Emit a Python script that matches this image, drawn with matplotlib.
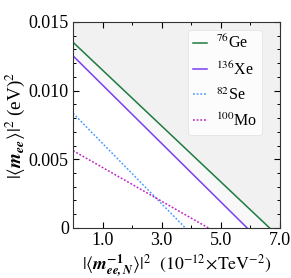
import matplotlib

matplotlib.use("Agg")
import matplotlib.pyplot as plt
import numpy as np
from matplotlib.ticker import MultipleLocator

plt.rcParams["font.family"] = ["Liberation Serif", "DejaVu Serif"]
plt.rcParams["mathtext.fontset"] = "stix"

# each isotope bound is a straight line: value at x=0 and x-intercept
isotopes = ["$^{76}$Ge", "$^{136}$Xe", "$^{82}$Se", "$^{100}$Mo"]
y_at_zero = [0.01352, 0.01253, 0.00835, 0.00563]  # (eV)^2
x_at_zero = [6.65, 5.89, 3.80, 4.58]  # 10^-12 TeV^-2
colors = ["#1f7a3f", "#7a3ff0", "#4a9cff", "#c020c8"]
styles = ["-", "-", (0, (1.2, 1.2)), (0, (1.2, 1.2))]

X_MAX = 7.0
Y_MAX = 0.015

fig = plt.figure(figsize=(2.91, 2.78), dpi=100)
ax = fig.add_axes([0.251, 0.180, 0.711, 0.741])

xs = np.linspace(0, X_MAX, 200)

# shaded excluded regions above Xe and Ge bounds
for i, shade in [(1, "#f8f8f8"), (0, "#f1f1f1")]:
    yline = y_at_zero[i] * (1 - xs / x_at_zero[i])
    ax.fill_between(xs, np.clip(yline, 0, None), Y_MAX, color=shade, lw=0, zorder=0)

for name, y0, x0, c, ls in zip(isotopes, y_at_zero, x_at_zero, colors, styles):
    ax.plot([0, x0], [y0, 0], color=c, ls=ls, lw=1.1, label=name)

ax.set_xlim(0, X_MAX)
ax.set_ylim(0, Y_MAX)
ax.set_xticks([1.0, 3.0, 5.0, 7.0])
ax.set_xticklabels(["1.0", "3.0", "5.0", "7.0"])
ax.xaxis.set_minor_locator(MultipleLocator(1.0))
ax.set_yticks([0, 0.005, 0.010, 0.015])
ax.set_yticklabels(["0", "0.005", "0.010", "0.015"])
ax.yaxis.set_minor_locator(MultipleLocator(0.001))
ax.tick_params(which="both", direction="in", top=True, right=True, labelsize=13, pad=3)
ax.tick_params(which="major", length=4, width=0.8)
ax.tick_params(which="minor", length=2.5, width=0.7)
for s in ax.spines.values():
    s.set_linewidth(0.8)
    s.set_color("#333333")

ax.set_xlabel(r"$|\langle \mathbfit{m}^{\mathbf{-1}}_{\mathbfit{ee,N}}\rangle|^2$  $(10^{-12}\!\times\!\mathrm{TeV}^{-2})$",
              fontsize=12.8, labelpad=2)
ax.set_ylabel(r"$|\langle \mathbfit{m}_{\mathbfit{ee}}\rangle|^2$ (eV)$^2$", fontsize=13.8, labelpad=1)

leg = ax.legend(loc="upper right", fontsize=11.5, handlelength=0.9, handletextpad=0.55,
                labelspacing=0.55, borderpad=0.3, borderaxespad=0, frameon=True,
                fancybox=True, bbox_to_anchor=(0.913, 0.961))
leg.get_frame().set_edgecolor("#e0e0e0")
leg.get_frame().set_facecolor("white")
leg.get_frame().set_linewidth(0.6)

fig.savefig("out.png", dpi=100)
